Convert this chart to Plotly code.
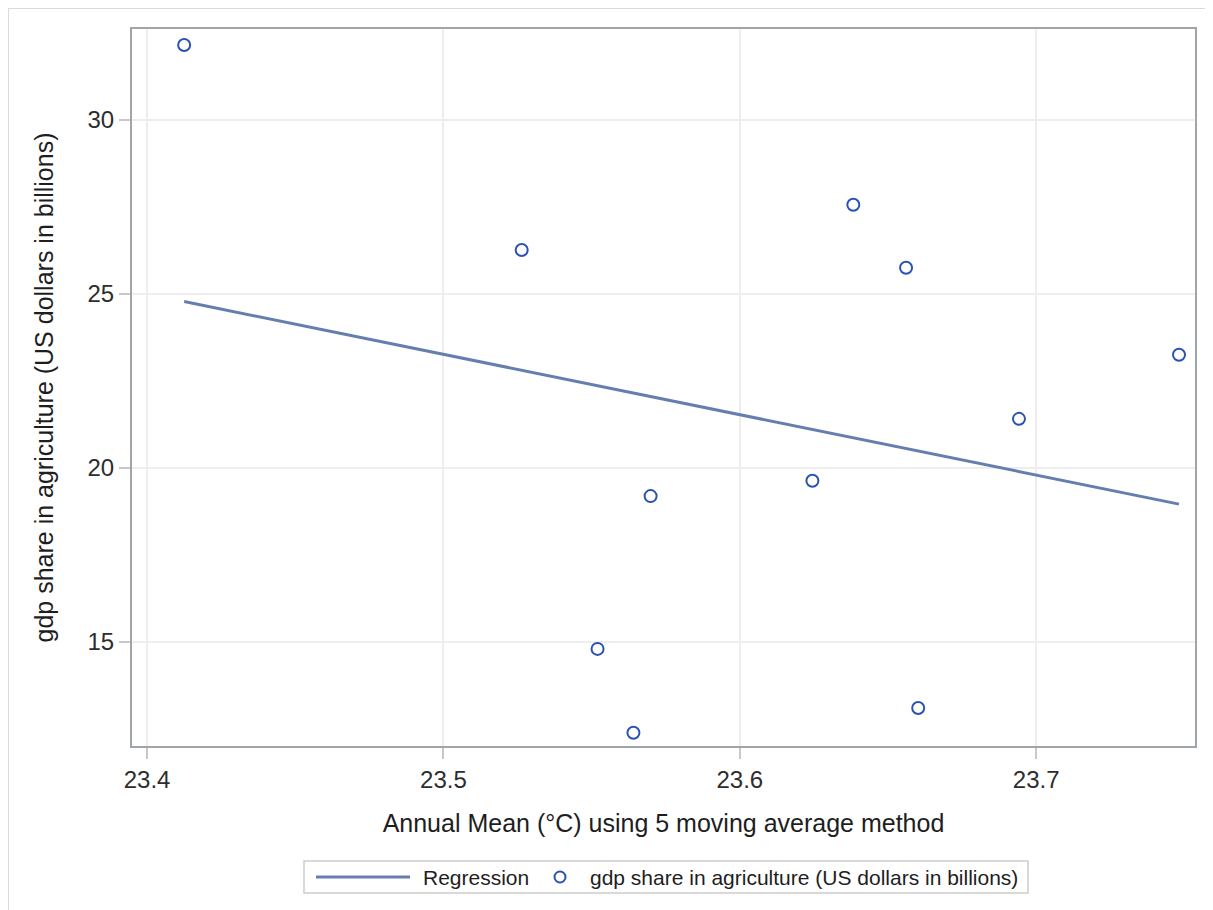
import plotly.graph_objects as go

temp = [23.4125, 23.5264, 23.552, 23.5641, 23.5699, 23.6245, 23.6383, 23.6561, 23.6602, 23.6942, 23.7482]
gdp = [32.15, 26.26, 14.80, 12.39, 19.19, 19.63, 27.56, 25.75, 13.10, 21.41, 23.25]

reg_x = [23.4125, 23.7482]
reg_y = [24.78, 18.96]

x_ticks = [23.4, 23.5, 23.6, 23.7]
y_ticks = [15, 20, 25, 30]

series_names = ["Regression", "gdp share in agriculture (US dollars in billions)"]

FONT = "Liberation Sans, Arial, sans-serif"
LINE_COLOR = "rgb(102,126,175)"
MARK_COLOR = "rgb(42,82,180)"
OFF = 8  # page body margin
W, H = 1213 - OFF, 910 - OFF
L, T = 132 - OFF, 29 - OFF
R = W - (1195 - OFF)
B = H - (746 - OFF)
pw, ph = W - L - R, H - T - B


def px(X):
    return (X - OFF - L) / pw


def py(Y):
    return 1 - (Y - OFF - T) / ph


fig = go.Figure()
fig.add_trace(go.Scatter(
    x=reg_x, y=reg_y, mode="lines", name=series_names[0],
    line=dict(color=LINE_COLOR, width=3), showlegend=False,
))
fig.add_trace(go.Scatter(
    x=temp, y=gdp, mode="markers", name=series_names[1],
    marker=dict(symbol="circle-open", size=12, color=MARK_COLOR, line=dict(width=2)),
    showlegend=False,
))

shapes = []
# outer frame
shapes.append(dict(type="rect", xref="paper", yref="paper",
                   x0=px(8), x1=px(1240), y0=py(940), y1=py(8),
                   line=dict(color="rgb(215,218,222)", width=2), layer="below"))
# legend box
shapes.append(dict(type="rect", xref="paper", yref="paper",
                   x0=px(304), x1=px(1028), y0=py(893), y1=py(861),
                   line=dict(color="rgb(205,205,205)", width=1.5), fillcolor="white"))
# legend line sample
shapes.append(dict(type="line", xref="paper", yref="paper",
                   x0=px(316), x1=px(410), y0=py(877), y1=py(877),
                   line=dict(color=LINE_COLOR, width=3)))
# legend marker sample
shapes.append(dict(type="circle", xref="paper", yref="paper",
                   xsizemode="pixel", ysizemode="pixel",
                   xanchor=px(560), yanchor=py(877),
                   x0=-5.5, x1=5.5, y0=-5.5, y1=5.5,
                   line=dict(color=MARK_COLOR, width=2)))

annotations = [
    dict(text=series_names[0], xref="paper", yref="paper", x=px(421), y=py(877),
         xanchor="left", yanchor="middle", showarrow=False,
         font=dict(size=21, color="rgb(30,30,30)")),
    dict(text=series_names[1], xref="paper", yref="paper", x=px(588), y=py(877),
         xanchor="left", yanchor="middle", showarrow=False,
         font=dict(size=21, color="rgb(30,30,30)")),
]

fig.update_layout(
    width=W, height=H,
    margin=dict(l=L, r=R, t=T, b=B),
    paper_bgcolor="white",
    plot_bgcolor="white",
    font=dict(family=FONT, size=16, color="rgb(40,40,40)"),
    showlegend=False,
    shapes=shapes,
    annotations=annotations,
    xaxis=dict(
        range=[23.3949, 23.7536], tickvals=x_ticks, ticktext=[str(v) for v in x_ticks],
        showgrid=True, gridcolor="rgb(238,238,238)", gridwidth=2,
        ticks="outside", ticklen=11, tickcolor="rgb(200,200,200)", tickwidth=2,
        showline=True, mirror=True, linecolor="rgb(160,165,170)", linewidth=2,
        zeroline=False, tickfont=dict(size=24, color="rgb(45,45,45)"),
        title=dict(text="Annual Mean (°C) using 5 moving average method",
                   font=dict(size=25, color="rgb(30,30,30)"), standoff=23),
    ),
    yaxis=dict(
        range=[12.01, 32.61], tickvals=y_ticks, ticktext=[str(v) for v in y_ticks],
        showgrid=True, gridcolor="rgb(238,238,238)", gridwidth=2,
        ticks="outside", ticklen=11, tickcolor="rgb(200,200,200)", tickwidth=2,
        showline=True, mirror=True, linecolor="rgb(160,165,170)", linewidth=2,
        zeroline=False, tickfont=dict(size=24, color="rgb(45,45,45)"),
        title=dict(text="gdp share in agriculture (US dollars in billions)",
                   font=dict(size=25, color="rgb(30,30,30)"), standoff=27),
    ),
)

fig.write_html("out.html")
